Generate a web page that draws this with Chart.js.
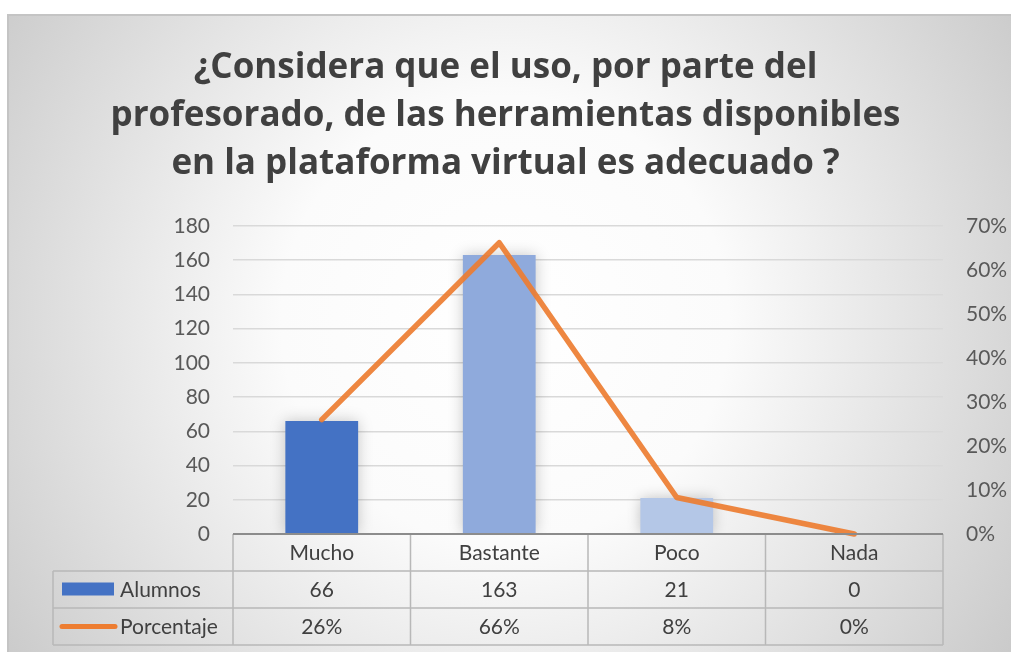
<!DOCTYPE html>
<html><head><meta charset="utf-8">
<script src="https://cdn.jsdelivr.net/npm/chart.js@4/dist/chart.umd.min.js"></script>
<style>html,body{margin:0;padding:0;background:#fff;overflow:hidden}#wrap{width:1011px;height:652px;position:relative}</style>
</head><body><div id="wrap"><canvas id="c" width="1011" height="652"></canvas></div>
<script>
const titleLines = ['¿Considera que el uso, por parte del', 'profesorado, de las herramientas disponibles', 'en la plataforma virtual es adecuado ?'];
const categories = ['Mucho', 'Bastante', 'Poco', 'Nada'];
const seriesNames = ['Alumnos', 'Porcentaje'];
const alumnos = [66, 163, 21, 0];
const porcentaje = [0.26, 0.662, 0.083, 0];
const porcentajeLabels = ['26%', '66%', '8%', '0%'];
const barColors = ['#4472C4', '#8FAADC', '#B4C7E7', '#DAE3F3'];
const lineColor = '#ED7D31';

const FONT = 'Lato, "Open Sans", sans-serif';
const TFONT = '"Open Sans", Lato, sans-serif';
const TXT = '#404040';

const bgPlugin = {
  id: 'bg',
  beforeDraw(chart) {
    const ctx = chart.ctx, W = chart.width, H = chart.height;
    ctx.save();
    ctx.fillStyle = '#ffffff';
    ctx.fillRect(0, 0, W, H);
    const x0 = 8, y0 = 15;
    const g = ctx.createRadialGradient(505, 320, 0, 505, 320, 640);
    g.addColorStop(0, '#ffffff');
    g.addColorStop(0.35, '#fbfbfb');
    g.addColorStop(1, '#c6c6c6');
    ctx.fillStyle = g;
    ctx.fillRect(x0, y0, W - x0, H - y0);
    ctx.strokeStyle = '#c4c4c4';
    ctx.lineWidth = 2;
    ctx.beginPath();
    ctx.moveTo(x0, H); ctx.lineTo(x0, y0); ctx.lineTo(W, y0);
    ctx.stroke();
    ctx.restore();
  }
};

const shadowPlugin = {
  id: 'barShadow',
  beforeDatasetDraw(chart, args) {
    if (args.meta.type === 'bar') {
      chart.ctx.save();
      chart.ctx.shadowColor = 'rgba(0,0,0,0.22)';
      chart.ctx.shadowBlur = 14;
    }
  },
  afterDatasetDraw(chart, args) {
    if (args.meta.type === 'bar') chart.ctx.restore();
  }
};

const tablePlugin = {
  id: 'dataTable',
  afterDraw(chart) {
    const ctx = chart.ctx, xs = chart.scales.x, ca = chart.chartArea;
    const n = categories.length;
    const cw = (ca.right - ca.left) / n;
    const rowH = 37;
    const top = ca.bottom;
    const legLeft = ca.left - 180;
    ctx.save();
    ctx.strokeStyle = '#b8b8b8';
    ctx.lineWidth = 1.5;
    ctx.beginPath();
    for (let r = 1; r <= 3; r++) {
      const y = top + r * rowH;
      ctx.moveTo(legLeft, y); ctx.lineTo(ca.right, y);
    }
    for (let i = 0; i <= n; i++) {
      const x = ca.left + i * cw;
      ctx.moveTo(x, top); ctx.lineTo(x, top + 3 * rowH);
    }
    ctx.moveTo(legLeft, top + rowH); ctx.lineTo(legLeft, top + 3 * rowH);
    ctx.stroke();
    ctx.strokeStyle = '#8c8c8c';
    ctx.lineWidth = 2;
    ctx.beginPath();
    ctx.moveTo(ca.left, top); ctx.lineTo(ca.right, top);
    ctx.stroke();
    ctx.fillStyle = TXT;
    ctx.font = '21px ' + FONT;
    ctx.textAlign = 'center';
    ctx.textBaseline = 'middle';
    categories.forEach((c, i) => {
      const cx = xs.getPixelForValue(i);
      ctx.fillText(c, cx, top + rowH * 0.5 + 1);
      ctx.fillText(String(alumnos[i]), cx, top + rowH * 1.5 + 1);
      ctx.fillText(porcentajeLabels[i], cx, top + rowH * 2.5 + 1);
    });
    ctx.textAlign = 'left';
    ctx.fillStyle = barColors[0];
    ctx.fillRect(legLeft + 9, top + rowH * 1.5 - 7, 52, 13);
    ctx.strokeStyle = lineColor;
    ctx.lineWidth = 5;
    ctx.lineCap = 'round';
    ctx.beginPath();
    ctx.moveTo(legLeft + 9, top + rowH * 2.5); ctx.lineTo(legLeft + 62, top + rowH * 2.5);
    ctx.stroke();
    ctx.fillStyle = TXT;
    ctx.fillText(seriesNames[0], legLeft + 67, top + rowH * 1.5 + 1);
    ctx.fillText(seriesNames[1], legLeft + 67, top + rowH * 2.5 + 1);
    ctx.restore();
  }
};

new Chart(document.getElementById('c'), {
  data: {
    labels: categories,
    datasets: [
      {
        type: 'line', label: seriesNames[1], data: porcentaje, yAxisID: 'y1', order: 0,
        borderColor: 'rgba(237,125,49,0.92)', borderWidth: 5.5, pointRadius: 0,
        borderCapStyle: 'round', borderJoinStyle: 'round', tension: 0, clip: 6
      },
      {
        type: 'bar', label: seriesNames[0], data: alumnos, yAxisID: 'y', order: 1,
        backgroundColor: barColors, categoryPercentage: 1, barPercentage: 0.41
      }
    ]
  },
  options: {
    responsive: false,
    animation: false,
    layout: { padding: { left: 0, right: 0, top: 0, bottom: 118 } },
    plugins: {
      legend: { display: false },
      tooltip: { enabled: false },
      title: {
        display: true, text: titleLines, color: TXT,
        font: { family: TFONT, size: 35, weight: 'bold', lineHeight: 48 / 35 },
        padding: { top: 44, bottom: 38 }
      }
    },
    scales: {
      x: { display: false, offset: true },
      y: {
        position: 'left', min: 0, max: 180,
        ticks: { stepSize: 20, color: '#595959', font: { family: FONT, size: 21 }, padding: 23 },
        grid: { color: '#d9d9d9', lineWidth: 1.5, drawTicks: false },
        border: { display: false },
        afterFit(s) { s.width = 233; }
      },
      y1: {
        position: 'right', min: 0, max: 0.7,
        ticks: { stepSize: 0.1, color: '#595959', font: { family: FONT, size: 21 }, padding: 23,
          callback: v => Math.round(v * 100) + '%' },
        grid: { display: false, drawTicks: false },
        border: { display: false },
        afterFit(s) { s.width = 68; }
      }
    }
  },
  plugins: [bgPlugin, shadowPlugin, tablePlugin]
});
</script></body></html>
